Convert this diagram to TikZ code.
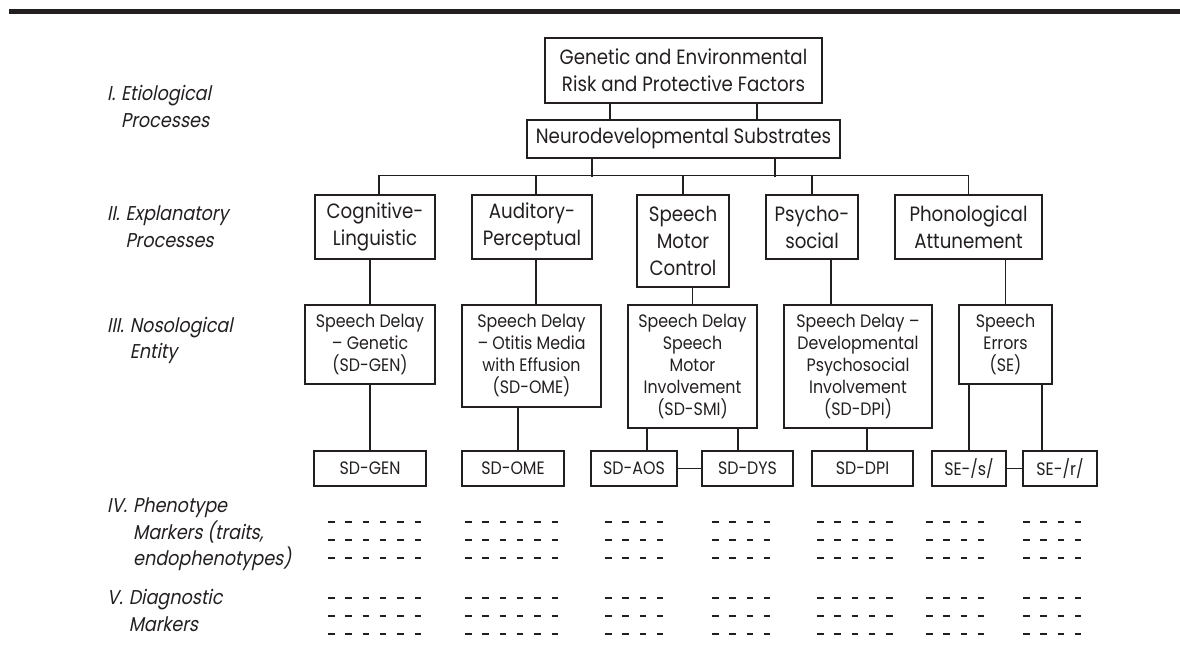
\documentclass[tikz,border=0pt]{standalone}
\usepackage{fontspec}
\setmainfont{Poppins}[FakeStretch=0.88]
\newfontfamily\lblfont{Poppins}[FakeSlant=0.2,FakeStretch=0.88]
\usetikzlibrary{calc}
\definecolor{ink}{HTML}{231F20}
\begin{document}
\begin{tikzpicture}[x=1pt,y=-1pt,
  box/.style={draw=ink, line width=1.4pt, inner sep=0pt, align=center, text=ink, font=\fontsize{20.7}{27}\selectfont},
  sbox/.style={box, font=\fontsize{18}{22}\selectfont},
  lbl/.style={anchor=west, inner sep=0pt, text=ink, font=\lblfont\fontsize{20}{26.5}\selectfont},
  link/.style={draw=ink, line width=1.3pt},
  dots/.style={draw=ink, line width=2.2pt, dash pattern=on 6.5pt off 10.8pt}]
\useasboundingbox (0,0) rectangle (1180,652);
\fill[ink] (9,9) rectangle (1180,14);

% level labels
\node[lbl] (l1) at (107,108.5) {\begin{tabular}{@{}l@{\hspace{6pt}}l@{}}I.&Etiological\\&Processes\end{tabular}};
\node[lbl] (l2) at (107,228.5) {\begin{tabular}{@{}l@{\hspace{6pt}}l@{}}II.&Explanatory\\&Processes\end{tabular}};
\node[lbl] (l3) at (107,340) {\begin{tabular}{@{}l@{\hspace{6pt}}l@{}}III.&Nosological\\&Entity\end{tabular}};
\node[lbl] (l4) at (107,534) {\begin{tabular}{@{}l@{\hspace{6pt}}l@{}}IV.&Phenotype\\&Markers (traits,\\&endophenotypes)\end{tabular}};
\node[lbl] (l5) at (107,612.5) {\begin{tabular}{@{}l@{\hspace{6pt}}l@{}}V.&Diagnostic\\&Markers\end{tabular}};

% level I
\node[box, minimum width=277pt, minimum height=65pt] (g) at (683.5,70.5) {Genetic and Environmental\\Risk and Protective Factors};
\node[box, minimum width=313pt, minimum height=38pt] (n) at (683.5,139) {Neurodevelopmental Substrates};

% level II
\node[box, minimum width=120pt, minimum height=64pt] (cl) at (375,227) {Cognitive-\\Linguistic};
\node[box, minimum width=120pt, minimum height=64pt] (ap) at (532,227) {Auditory-\\Perceptual};
\node[box, minimum width=92pt, minimum height=92pt] (smc) at (683,241) {Speech\\Motor\\Control};
\node[box, minimum width=92pt, minimum height=64pt] (ps) at (812,227) {Psycho-\\social};
\node[box, minimum width=147pt, minimum height=64pt] (pa) at (968.5,227) {Phonological\\Attunement};

% level III
\node[sbox, minimum width=130pt, minimum height=79pt] (sg) at (370,344.5) {Speech Delay\\– Genetic\\(SD-GEN)};
\node[sbox, minimum width=139pt, minimum height=102pt] (so) at (531.5,356) {Speech Delay\\– Otitis Media\\with Effusion\\(SD-OME)};
\node[sbox, minimum width=129pt, minimum height=123pt] (ss) at (692.5,366.5) {Speech Delay\\Speech\\Motor\\Involvement\\(SD-SMI)};
\node[sbox, minimum width=148pt, minimum height=123pt] (sd) at (858,366.5) {Speech Delay –\\Developmental\\Psychosocial\\Involvement\\(SD-DPI)};
\node[sbox, minimum width=93pt, minimum height=79pt] (se) at (1005.5,344.5) {Speech\\Errors\\(SE)};

% subtypes
\node[sbox, minimum width=112pt, minimum height=35pt] (bg) at (370,468.5) {SD-GEN};
\node[sbox, minimum width=102pt, minimum height=35pt] (bo) at (513,468.5) {SD-OME};
\node[sbox, minimum width=86pt, minimum height=35pt] (ba) at (634,468.5) {SD-AOS};
\node[sbox, minimum width=91pt, minimum height=35pt] (bd) at (747.5,468.5) {SD-DYS};
\node[sbox, minimum width=101pt, minimum height=35pt] (bp) at (862.5,468.5) {SD-DPI};
\node[sbox, minimum width=74pt, minimum height=35pt] (bs) at (969,468.5) {SE-/s/};
\node[sbox, minimum width=74pt, minimum height=35pt] (br) at (1060,468.5) {SE-/r/};

% connectors I
\draw[link] ([xshift=-73.5pt]g.south) -- ([xshift=-73.5pt]n.north);
\draw[link] ([xshift=73.5pt]g.south) -- ([xshift=73.5pt]n.north);
\draw[link] ([xshift=-91.5pt]n.south) -- ++(0,18);
\draw[link] ([xshift=91.5pt]n.south) -- ++(0,18);
\draw[link] ([xshift=4pt]cl.north) -- ++(0,-19) -| (pa.north);
\draw[link] ([xshift=4pt]ap.north) -- ++(0,-19);
\draw[link] (smc.north) -- ++(0,-19);
\draw[link] (ps.north) -- ++(0,-19);

% connectors II -> III
\draw[link] (sg.north) -- (sg.north |- cl.south);
\draw[link] ([xshift=4pt]ap.south) -- ([xshift=4pt]ap.south |- so.north);
\draw[link] (ss.north) -- (ss.north |- smc.south);
\draw[link] ([xshift=19pt]ps.south) -- ([xshift=19pt]ps.south |- sd.north);
\draw[link] (se.north) -- (se.north |- pa.south);

% connectors III -> subtypes
\draw[link] (bg.north) -- (bg.north |- sg.south);
\draw[link] ([xshift=5pt]bo.north) -- ([xshift=5pt]bo.north |- so.south);
\draw[link] ([xshift=13pt]ba.north) -- ([xshift=13pt]ba.north |- ss.south);
\draw[link] ([xshift=-9.5pt]bd.north) -- ([xshift=-9.5pt]bd.north |- ss.south);
\draw[link] ([xshift=4.5pt]bp.north) -- ([xshift=4.5pt]bp.north |- sd.south);
\draw[link] (bs.north) -- (bs.north |- se.south);
\draw[link] ([xshift=-18pt]br.north) -- ([xshift=-18pt]br.north |- se.south);
\draw[link] (ba.east) -- (bd.west);
\draw[link] (bs.east) -- (br.west);

% marker placeholders
\foreach \x/\n in {328/6,465/6,605/4,712/4,817/5,926/4,1023/4}
  \foreach \y in {522,540,558,598,616,634}
    \draw[dots] (\x,\y) -- ++({(\n-1)*17.3+6.5},0);
\end{tikzpicture}
\end{document}
